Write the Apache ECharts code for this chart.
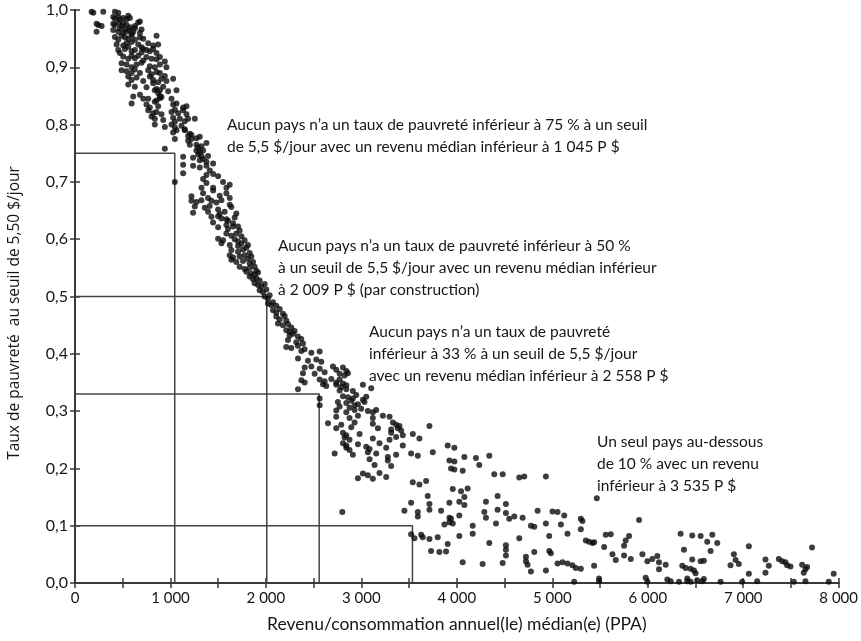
<!DOCTYPE html>
<html>
<head>
<meta charset="utf-8">
<script src="https://cdn.jsdelivr.net/npm/echarts@6/dist/echarts.min.js"></script>
<style>html,body{margin:0;padding:0;background:#fff}#chart{width:861px;height:641px}</style>
</head>
<body>
<div id="chart"></div>
<script>
// Thresholds (median income, poverty rate)
const thresholdIncome = [1045, 2009, 2558, 3535];
const thresholdRate = [0.75, 0.50, 0.33, 0.10];

// X tick labels and Y tick labels
const xTickValues = [0, 1000, 2000, 3000, 4000, 5000, 6000, 7000, 8000];
const xTickLabels = ['0', '1 000', '2 000', '3 000', '4 000', '5 000', '6 000', '7 000', '8 000'];
const yTickValues = [0, 0.1, 0.2, 0.3, 0.4, 0.5, 0.6, 0.7, 0.8, 0.9, 1.0];
const yTickLabels = ['0,0', '0,1', '0,2', '0,3', '0,4', '0,5', '0,6', '0,7', '0,8', '0,9', '1,0'];

// Countries: [median income (PPP), poverty rate at 5.50 $/day]
const pointsTop = [
[174,0.997],[192,0.995],[296,0.997],[418,0.997],[453,0.995],
[401,0.988],[418,0.985],[453,0.988],[470,0.983],[505,0.986],[540,0.984],[558,0.99],[575,0.986],
[226,0.976],[244,0.974],[279,0.972],[401,0.976],[418,0.974],[453,0.978],[488,0.972],[505,0.976],[540,0.974],[575,0.97],[627,0.972],[662,0.978],[680,0.98],
[226,0.962],[401,0.965],[453,0.962],[470,0.968],[505,0.96],[523,0.966],[540,0.962],[575,0.965],[593,0.958],[610,0.962],[627,0.968],[680,0.96],[697,0.966],
[418,0.953],[453,0.948],[488,0.955],[523,0.952],[558,0.95],[593,0.955],[627,0.948],[680,0.952],[715,0.95],[854,0.955],
[436,0.94],[505,0.938],[540,0.942],[558,0.936],[593,0.944],[662,0.94],[697,0.935],[767,0.942],[819,0.938],[871,0.94],
[453,0.93],[470,0.925],[523,0.932],[593,0.928],[627,0.93],[697,0.926],[715,0.932],[749,0.93],[784,0.928],[819,0.932],[854,0.925],
[505,0.919],[558,0.915],[593,0.92],[627,0.916],[662,0.92],[715,0.912],[749,0.918],[802,0.915],[854,0.914],[889,0.918],[941,0.91],
[488,0.907],[540,0.905],[593,0.9],[645,0.905],[697,0.908],[784,0.902],[836,0.9],[889,0.905],[958,0.9],
[488,0.895],[540,0.893],[593,0.89],[627,0.896],[680,0.89],[767,0.895],[802,0.888],[854,0.892],[889,0.89],[941,0.885],
[558,0.884],[593,0.878],[645,0.882],[715,0.876],[784,0.884],[819,0.878],[871,0.874],[906,0.88],[958,0.876],[1028,0.88],
[558,0.87],[627,0.866],[749,0.865],[819,0.872],[854,0.862],[889,0.86],[924,0.866],[976,0.858],
[836,0.86],[871,0.855],[889,0.85],[906,0.848],[1063,0.86],
[610,0.849],[680,0.852],[715,0.845],[767,0.845],[854,0.842],[889,0.846],[1011,0.845],
[593,0.837],[749,0.835],[784,0.83],[836,0.84],[871,0.832],[1028,0.835],[1063,0.837],[1133,0.83],[1168,0.832],
[767,0.825],[819,0.82],[854,0.822],[906,0.818],[1011,0.822],[1046,0.826],[1081,0.82],[1133,0.825],[1168,0.818],
[802,0.814],[836,0.81],[924,0.808],[1028,0.812],[1046,0.805],[1098,0.81],[1150,0.806],[1185,0.81],[1255,0.81],
[836,0.8],[941,0.796],[1011,0.8],[1046,0.795],[1063,0.79],[1115,0.798],[1150,0.792],
[1028,0.786],[1150,0.79],[1185,0.78],[1203,0.784],[1220,0.782],
[1046,0.775],[1185,0.772],[1220,0.775],[1272,0.776],[1307,0.779],
[1203,0.765],[1272,0.765],[1290,0.76],[1325,0.762],[1377,0.768],
[941,0.758],[1272,0.755],[1290,0.748],[1307,0.752],[1325,0.745],[1342,0.755],
[1133,0.744],[1237,0.742],[1307,0.738],[1342,0.74],[1377,0.735],[1394,0.745],
[1133,0.73],[1237,0.728],[1307,0.725],[1377,0.728],[1412,0.72],[1447,0.732],
[1133,0.715],[1377,0.712],[1447,0.714],[1499,0.71],
[1046,0.70],[1325,0.69],[1342,0.705],[1377,0.698],[1447,0.69],[1551,0.7],[1586,0.69],[1621,0.695],
[1220,0.675],[1342,0.68],[1394,0.672],[1447,0.685],[1516,0.676],[1586,0.68],[1621,0.672]
];

const pointsMiddle = [
[1220,0.667],[1272,0.665],[1324,0.668],[1429,0.667],[1481,0.664],[1534,0.668],[1621,0.66],
[1255,0.657],[1359,0.655],[1411,0.658],[1499,0.652],[1638,0.656],
[1237,0.646],[1394,0.648],[1516,0.644],[1568,0.648],[1690,0.645],
[1429,0.639],[1499,0.64],[1534,0.636],[1586,0.635],[1603,0.632],[1673,0.638],
[1446,0.629],[1586,0.625],[1656,0.628],[1708,0.622],
[1499,0.621],[1603,0.618],[1656,0.622],[1725,0.615],
[1586,0.61],[1638,0.606],[1690,0.61],[1743,0.605],
[1499,0.601],[1551,0.598],[1673,0.6],[1708,0.596],[1777,0.598],
[1534,0.593],[1621,0.59],[1708,0.588],[1743,0.592],[1795,0.585],[1812,0.59],
[1638,0.581],[1708,0.578],[1760,0.582],[1830,0.576],
[1621,0.572],[1656,0.568],[1725,0.57],[1777,0.572],[1812,0.566],[1847,0.57],
[1638,0.564],[1690,0.56],[1760,0.562],[1830,0.558],[1865,0.56],
[1725,0.552],[1777,0.548],[1830,0.55],[1882,0.552],[1900,0.545],
[1795,0.543],[1847,0.54],[1882,0.538],[1917,0.542],
[1830,0.535],[1865,0.53],[1900,0.532],[1934,0.528],
[1882,0.523],[1917,0.52],[1952,0.518],[1987,0.522],
[1934,0.511],[1969,0.508],[2004,0.512],
[1987,0.5],[2021,0.496],[2039,0.502],
[2021,0.488],[2056,0.485],[2074,0.49],[2109,0.484],
[2074,0.476],[2109,0.472],[2144,0.478],[2178,0.47],
[2109,0.465],[2144,0.46],[2196,0.466],[2213,0.458],
[2126,0.453],[2178,0.45],[2231,0.452],[2266,0.446],
[2213,0.441],[2248,0.438],[2300,0.44],
[2248,0.432],[2283,0.435],[2335,0.43],
[2231,0.424],[2318,0.42],[2370,0.426],[2388,0.418],
[2213,0.412],[2266,0.41],[2335,0.414],[2405,0.408]
];

const pointsLowerMiddle = [
[2371,0.405],[2476,0.402],[2563,0.404],
[2336,0.392],[2441,0.388],[2528,0.39],[2580,0.386],
[2406,0.376],[2476,0.378],[2563,0.374],[2702,0.378],[2737,0.372],[2807,0.376],[2842,0.37],
[2388,0.366],[2510,0.365],[2615,0.368],[2772,0.365],[2824,0.362],[2859,0.366],
[2371,0.354],[2406,0.35],[2563,0.355],[2615,0.352],[2685,0.356],[2737,0.35],[2772,0.355],[2807,0.348],
[2598,0.347],[2632,0.344],[2737,0.346],[2789,0.342],[2842,0.345],[3016,0.346],
[2336,0.338],[2772,0.336],[2842,0.338],[2911,0.335],[3103,0.34],
[2563,0.322],[2807,0.326],[2859,0.324],[2911,0.322],[2946,0.328],[3016,0.32],[3051,0.325],
[2754,0.316],[2842,0.314],[2894,0.318],[2964,0.312],[3033,0.316],
[2563,0.31],[2772,0.308],[2876,0.306],[2929,0.31],[2998,0.304],
[2737,0.301],[2842,0.298],[2929,0.302],[3068,0.3],[3120,0.298],[3155,0.302],
[2737,0.29],[2876,0.288],[2964,0.292],[3120,0.288],[3225,0.292],[3295,0.29],
[2650,0.279],[2789,0.276],[2929,0.28],[3120,0.278],[3330,0.28],[3364,0.276],[3399,0.274],
[2737,0.27],[2894,0.272],[3173,0.27],[3312,0.268],[3382,0.27],[3417,0.266],[3713,0.274],
[2807,0.262],[2842,0.258],[2981,0.26],[3312,0.262],[3434,0.258],[3539,0.26],
[2824,0.254],[2876,0.25],[3120,0.252],[3295,0.25],[3364,0.255],[3608,0.252],
[2807,0.244],[2842,0.24],[2964,0.242],[3190,0.244],[3434,0.24],
[2842,0.236],[2876,0.232],[3051,0.238],[3086,0.234],[3260,0.236],
[2720,0.226],[2911,0.224],[3068,0.228],[3155,0.226],[3277,0.22],[3364,0.224],[3521,0.226],[3591,0.222],[3748,0.228],
[3086,0.216],[3277,0.214],
[3138,0.206],[3312,0.204],
[3016,0.191],[3068,0.188],[3190,0.192],
[2964,0.183],[3120,0.182],[3260,0.185],
[2800,0.124]
];

const pointsLow = [
[3904,0.24],[3974,0.236],
[4079,0.22],[4200,0.218],[4340,0.222],
[3922,0.214],[3974,0.212],[4235,0.206],
[3939,0.2],[3974,0.198],[4061,0.196],
[4392,0.19],[4480,0.19],
[4654,0.184],[4706,0.186],[4933,0.186],
[3538,0.176],[3608,0.172],[3678,0.178],
[3957,0.164],[4044,0.16],[4113,0.165],
[3695,0.152],[4079,0.15],[4427,0.152],
[3521,0.14],[3713,0.138],[3922,0.14],[4026,0.142],[4079,0.136],[4305,0.142],[4514,0.138],
[3451,0.126],[3591,0.124],[3713,0.128],[3835,0.126],[4288,0.124],[4427,0.128],[4514,0.122],[4846,0.126],[5002,0.125],[5055,0.124],
[3591,0.116],[3922,0.114],[3939,0.112],[4026,0.118],[4305,0.114],[4549,0.112],[4602,0.116],[4689,0.114],[5125,0.118],
[3870,0.102],[3922,0.106],[3957,0.104],[4166,0.1],[4410,0.104],[4776,0.1],[4811,0.098],[4933,0.104],[5090,0.102],
[3521,0.085],[3626,0.084],[4166,0.086],[4968,0.082],[5159,0.086],
[3556,0.078],[3643,0.08],[3713,0.077],[3800,0.08],[4026,0.082],[4654,0.078],
[3904,0.068],[4340,0.07],[4514,0.066],
[3730,0.056],[3817,0.054],[3887,0.055],[4514,0.058],[4811,0.054],[4968,0.056],[4985,0.052],
[4514,0.048],[4724,0.046],
[4061,0.036],[4270,0.033],[4480,0.035],[4724,0.038],[4741,0.032],[5055,0.034],[5107,0.036],[5159,0.034],
[4776,0.02],[4933,0.022]
];

const pointsRich = [
[5466,0.148],
[5909,0.11],[5299,0.112],[5316,0.108],
[5299,0.094],
[5560,0.084],[5612,0.085],[5804,0.082],[6344,0.086],[6466,0.083],[6554,0.082],[6676,0.084],
[5386,0.072],[5351,0.074],[5421,0.07],[5438,0.071],[5769,0.074],[6623,0.072],[6728,0.07],
[5543,0.063],[5752,0.065],[7059,0.064],[7721,0.062],
[6379,0.058],[6658,0.056],
[5630,0.05],[5752,0.048],[5944,0.05],[6100,0.047],[6902,0.05],
[5665,0.04],[5822,0.042],[5996,0.038],[6048,0.042],[6118,0.036],[6466,0.041],[6554,0.038],[6588,0.039],[6920,0.04],[7233,0.041],[7373,0.042],[7408,0.038],[7442,0.036],
[5211,0.031],[5438,0.03],[6188,0.032],[6362,0.03],[6867,0.031],[6954,0.033],[7268,0.03],[7460,0.031],[7495,0.029],[7617,0.032],[7669,0.028],
[5246,0.026],[5299,0.025],[6118,0.024],[6397,0.026],[6449,0.025],[6484,0.022],[7652,0.024],
[6501,0.017],[7059,0.016],[7233,0.018],[7948,0.016],[7634,0.018],
[5490,0.008],[5978,0.009],[6205,0.006],[6414,0.008],[6519,0.005],[6588,0.007],
[5229,0.002],[5490,0.003],[5996,0.002],[6240,0.003],[6327,0.002],[6414,0.003],[6449,0.002],[6571,0.003],[6763,0.002],[6989,0.002],[7146,0.003],[7530,0.002],[7652,0.003],[7896,0.002]
];

const annotations = [
  ['Aucun pays n’a un taux de pauvreté inférieur à 75 % à un seuil', 'de 5,5 $/jour avec un revenu médian inférieur à 1 045 P $'],
  ['Aucun pays n’a un taux de pauvreté inférieur à 50 %', 'à un seuil de 5,5 $/jour avec un revenu médian inférieur', 'à 2 009 P $ (par construction)'],
  ['Aucun pays n’a un taux de pauvreté', 'inférieur à 33 % à un seuil de 5,5 $/jour', 'avec un revenu médian inférieur à 2 558 P $'],
  ['Un seul pays au-dessous', 'de 10 % avec un revenu', 'inférieur à 3 535 P $']
];

const allPoints = pointsTop.concat(pointsMiddle, pointsLowerMiddle, pointsLow, pointsRich);

const chart = echarts.init(document.getElementById('chart'), null, {renderer: 'canvas'});
const FONT = 'Lato, "Open Sans", sans-serif';
const axisColor = '#3a3a3a';

const thresholdSeries = thresholdIncome.map((inc, i) => ({
  type: 'line',
  data: [[0, thresholdRate[i]], [inc, thresholdRate[i]], [inc, 0]],
  symbol: 'none',
  silent: true,
  lineStyle: {color: '#444', width: 1.5},
  z: 1
}));

const annotPos = [[227, 123], [278, 244], [369, 330], [597, 440]];
const graphics = annotations.map((lines, i) => ({
  type: 'text',
  left: annotPos[i][0],
  top: annotPos[i][1] - 9,
  style: {
    text: lines.join('\n'),
    font: '15.5px ' + FONT,
    fill: '#161616',
    lineHeight: 22
  }
}));
graphics.push({
  type: 'text',
  x: 15, y: 313,
  rotation: Math.PI / 2,
  style: {
    text: 'Taux de pauvreté  au seuil de 5,50 $/jour',
    font: '15.5px "Open Sans", sans-serif',
    fill: '#161616',
    align: 'center',
    verticalAlign: 'middle'
  }
});

const xFmt = v => { const i = xTickValues.indexOf(v); return i >= 0 ? xTickLabels[i] : ''; };
const yFmt = v => { const i = yTickValues.findIndex(t => Math.abs(t - v) < 1e-6); return i >= 0 ? yTickLabels[i] : ''; };

chart.setOption({
  animation: false,
  backgroundColor: '#fff',
  grid: {left: 75, right: 21, top: 10, bottom: 58, containLabel: false},
  xAxis: [{
    type: 'value', min: 0, max: 8000, interval: 500, position: 'bottom',
    axisLine: {show: true, lineStyle: {color: axisColor, width: 2}},
    axisTick: {show: true, inside: true, length: 5, lineStyle: {color: axisColor, width: 1.5}},
    axisLabel: {formatter: xFmt, fontSize: 15, fontFamily: FONT, color: '#161616', margin: 8},
    splitLine: {show: false},
    name: 'Revenu/consommation annuel(le) médian(e) (PPA)',
    nameLocation: 'middle', nameGap: 32,
    nameTextStyle: {fontSize: 17.5, fontFamily: FONT, color: '#161616', verticalAlign: 'top'}
  }, {
    type: 'value', min: 0, max: 8000, interval: 500, position: 'top',
    axisLine: {show: true, lineStyle: {color: axisColor, width: 2}},
    axisTick: {show: true, inside: true, length: 5, lineStyle: {color: axisColor, width: 1.5}},
    axisLabel: {show: false}, splitLine: {show: false}
  }],
  yAxis: [{
    type: 'value', min: 0, max: 1, interval: 0.1, position: 'left',
    axisLine: {show: true, lineStyle: {color: axisColor, width: 2}},
    axisTick: {show: true, inside: true, length: 5, lineStyle: {color: axisColor, width: 1.5}},
    axisLabel: {formatter: yFmt, fontSize: 16, fontFamily: FONT, color: '#161616', margin: 7},
    splitLine: {show: false}
  }, {
    type: 'value', min: 0, max: 1, interval: 0.1, position: 'right',
    axisLine: {show: true, lineStyle: {color: axisColor, width: 2}},
    axisTick: {show: true, inside: true, length: 5, lineStyle: {color: axisColor, width: 1.5}},
    axisLabel: {show: false}, splitLine: {show: false}
  }],
  graphic: graphics,
  series: thresholdSeries.concat([{
    type: 'scatter',
    data: allPoints,
    symbol: 'circle',
    symbolSize: 6,
    itemStyle: {color: '#0d0d0d'},
    silent: true,
    z: 3
  }])
});
</script>
</body>
</html>
